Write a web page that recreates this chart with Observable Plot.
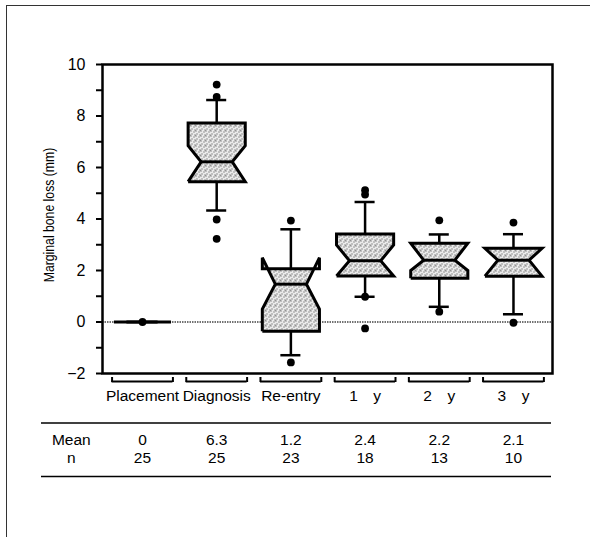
<!DOCTYPE html>
<html>
<head>
<meta charset="utf-8">
<script src="https://cdn.jsdelivr.net/npm/d3@7"></script>
<script src="https://cdn.jsdelivr.net/npm/@observablehq/plot@0.6"></script>
<style>
  html, body { margin: 0; padding: 0; background: #fff; overflow: hidden; }
  #wrap { position: relative; width: 590px; height: 537px; overflow: hidden; }
  #border { position: absolute; left: 6px; top: 5px; width: 700px; height: 700px;
            border-top: 1.5px solid #333; border-left: 1.5px solid #333; }
  #chart { position: absolute; left: 0; top: 0; }
</style>
</head>
<body>
<div id="wrap"><div id="border"></div><div id="chart"></div></div>
<script>
// ---- data ----
const groups    = ["Placement", "Diagnosis", "Re-entry", "1 y", "2 y", "3 y"];
const q1        = [0, 5.45, -0.36, 1.79, 1.70, 1.78];
const notchLo   = [0, 5.45,  0.50, 1.79, 2.00, 1.78];
const median    = [0, 6.22,  1.47, 2.38, 2.40, 2.40];
const notchHi   = [0, 6.85,  2.50, 2.99, 3.06, 2.86];
const q3        = [0, 7.73,  2.07, 3.42, 3.06, 2.86];
const whiskerLo = [null, 4.33, -1.29, 0.98, 0.59, 0.30];
const whiskerHi = [null, 8.62,  3.60, 4.66, 3.40, 3.41];
const outliers  = [[0], [9.22, 8.74, 3.98, 3.23], [3.94, -1.57], [5.12, 4.95, 0.98, -0.25], [3.95, 0.40], [3.86, -0.03]];
const means     = [0, 6.3, 1.2, 2.4, 2.2, 2.1];
const counts    = [25, 25, 23, 18, 13, 10];
const yTicks      = [-2, 0, 2, 4, 6, 8, 10];
const yMinorTicks = [-1, 1, 3, 5, 7, 9];
const yDomain   = [-2, 10];
const yLabel    = "Marginal bone loss (mm)";
const rowLabels = ["Mean", "n"];

// ---- layout constants ----
const hw = 0.385;    // box half width (band units)
const inner = 0.21;  // notch half width at median
const cap = 0.135;   // whisker cap half width
const br = 0.41;     // bracket half width
const yMin = yDomain[0];
const idx = groups.map((_, i) => i);
const font = "'Liberation Sans', Arial, sans-serif";

const boxPts = idx.flatMap(i => [
  [i - hw, q1[i]], [i - hw, notchLo[i]], [i - inner, median[i]], [i - hw, notchHi[i]], [i - hw, q3[i]],
  [i + hw, q3[i]], [i + hw, notchHi[i]], [i + inner, median[i]], [i + hw, notchLo[i]], [i + hw, q1[i]],
  [i - hw, q1[i]]
].map(([x, y]) => ({g: groups[i], x, y})));

const whiskIdx = idx.filter(i => whiskerLo[i] != null);
const outPts = idx.flatMap(i => outliers[i].map(v => ({x: i, y: v})));
const label = s => s.replace(" ", "\u2002\u2002");

const svg = Plot.plot({
  width: 590,
  height: 537,
  marginTop: 64,
  marginBottom: 164,
  marginLeft: 102,
  marginRight: 38,
  style: {fontFamily: font, background: "transparent"},
  x: {domain: [-0.539, 5.526], axis: null},
  y: {domain: yDomain, axis: null},
  marks: [
    Plot.ruleY([0], {stroke: "#444", strokeWidth: 1.4, strokeDasharray: "1.5,1"}),
    // whiskers
    Plot.ruleX(whiskIdx, {x: i => i, y1: i => q3[i], y2: i => whiskerHi[i], strokeWidth: 2.5, stroke: "black"}),
    Plot.ruleX(whiskIdx, {x: i => i, y1: i => q1[i], y2: i => whiskerLo[i], strokeWidth: 2.5, stroke: "black"}),
    Plot.ruleY(whiskIdx, {x1: i => i - cap, x2: i => i + cap, y: i => whiskerHi[i], strokeWidth: 2.5, stroke: "black"}),
    Plot.ruleY(whiskIdx, {x1: i => i - cap, x2: i => i + cap, y: i => whiskerLo[i], strokeWidth: 2.5, stroke: "black"}),
    // notched boxes
    Plot.line(boxPts, {x: "x", y: "y", z: "g", fill: "url(#stipple)", stroke: "black", strokeWidth: 3,
      strokeLinejoin: "miter", strokeMiterlimit: 4, strokeLinecap: "butt"}),
    Plot.ruleY(idx, {x1: i => i - inner, x2: i => i + inner, y: i => median[i], strokeWidth: 3, stroke: "black"}),
    // outliers
    Plot.dot(outPts, {x: "x", y: "y", r: 3.9, fill: "black", stroke: null}),
    // frame and y axis
    Plot.frame({strokeWidth: 2.5, stroke: "black"}),
    Plot.axisY(yTicks, {tickSize: 6, tickPadding: 11, fontSize: 16, strokeWidth: 2, label: null, fill: "black"}),
    Plot.axisY(yMinorTicks, {tickSize: 6, text: null, strokeWidth: 2, label: null}),
    Plot.text([yLabel], {frameAnchor: "left", textAnchor: "middle", dx: -53, dy: -4, rotate: -90, fontSize: 15.5, fill: "black"}),
    // category brackets and labels
    Plot.ruleY(idx, {x1: i => i - br, x2: i => i + br, y: yMin, dy: 8, strokeWidth: 2, stroke: "black"}),
    Plot.ruleX(idx.flatMap(i => [i - br, i + br]), {x: d => d, y1: yMin, y2: yMin, insetTop: 4, insetBottom: -9, strokeWidth: 2, stroke: "black"}),
    Plot.text(idx, {x: i => i, y: yMin, dy: 23, text: i => label(groups[i]), fontSize: 15.5, fill: "black"}),
    // table
    Plot.ruleY([yMin], {y: d => d, dy: 49.5, insetLeft: -61, insetRight: 1, strokeWidth: 1.6, stroke: "black"}),
    Plot.ruleY([yMin], {y: d => d, dy: 103, insetLeft: -61, insetRight: 1, strokeWidth: 1.6, stroke: "black"}),
    Plot.text([rowLabels[0]], {x: -1, y: yMin, dy: 67, dx: 3, fontSize: 15.5, fill: "black"}),
    Plot.text([rowLabels[1]], {x: -1, y: yMin, dy: 85, dx: 3, fontSize: 15.5, fill: "black"}),
    Plot.text(idx, {x: i => i, y: yMin, dy: 67, text: i => String(means[i]), fontSize: 15.5, fill: "black"}),
    Plot.text(idx, {x: i => i, y: yMin, dy: 85, text: i => String(counts[i]), fontSize: 15.5, fill: "black"})
  ]
});

// stipple pattern for the box fill
const defs = d3.select(svg).insert("defs", ":first-child");
const pat = defs.append("pattern").attr("id", "stipple").attr("patternUnits", "userSpaceOnUse")
  .attr("width", 5).attr("height", 5);
pat.append("rect").attr("width", 5).attr("height", 5).attr("fill", "#ebebeb");
[[0, 0], [3, 1], [1, 3], [4, 4]].forEach(([x, y]) =>
  pat.append("rect").attr("x", x).attr("y", y).attr("width", 1).attr("height", 1).attr("fill", "#3a3a3a"));

// condense the y title (the reference uses a narrow face)
d3.select(svg).selectAll("text").filter(function () { return this.textContent === yLabel; })
  .each(function () {
    const t = this.getAttribute("transform") || "";
    this.setAttribute("transform", t + " scale(0.79,1)");
  });

document.getElementById("chart").appendChild(svg);
</script>
</body>
</html>
